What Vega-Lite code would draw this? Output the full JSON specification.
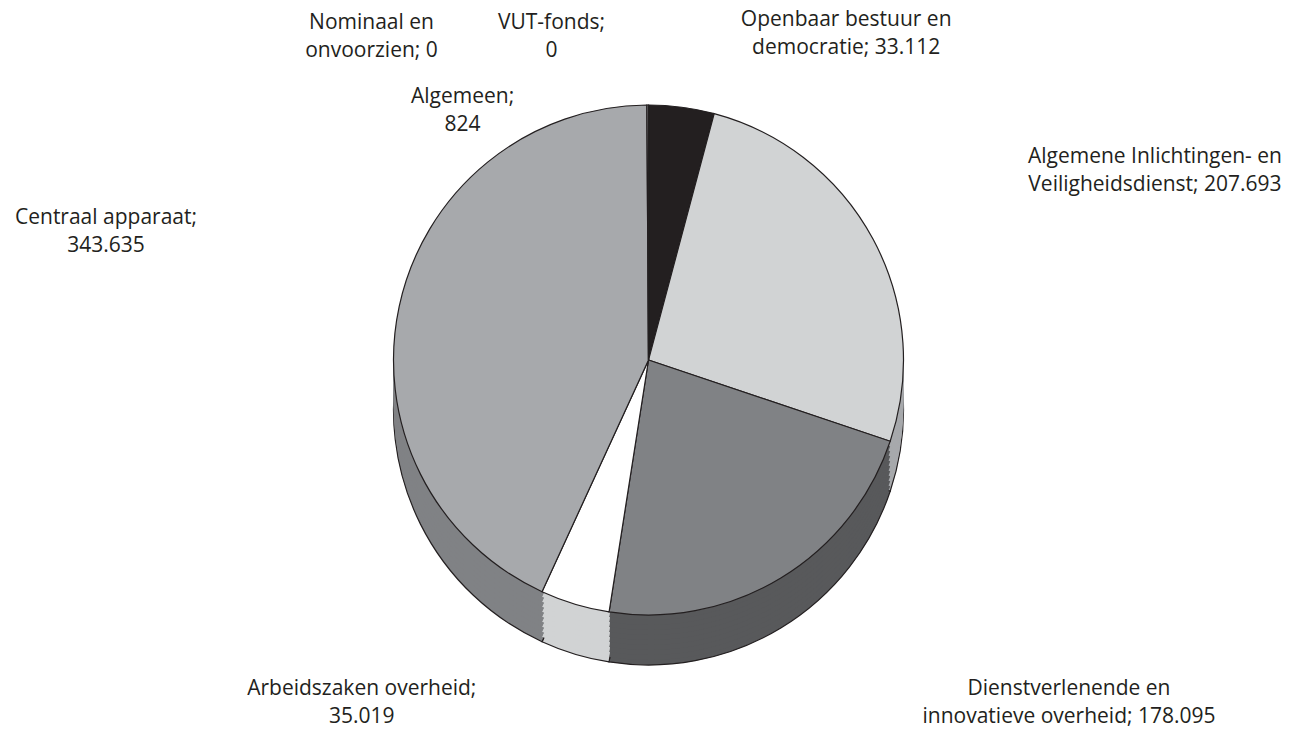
{
  "$schema": "https://vega.github.io/schema/vega-lite/v6.json",
  "width": 1297,
  "height": 740,
  "autosize": {"type": "none"},
  "padding": 0,
  "background": "white",
  "config": {"view": {"stroke": null}, "font": "Open Sans"},
  "data": {
    "values": [
      {"post": "Openbaar bestuur en democratie", "bedrag": 33112, "label": "Openbaar bestuur en\ndemocratie; 33.112", "volgorde": 1},
      {"post": "Algemene Inlichtingen- en Veiligheidsdienst", "bedrag": 207693, "label": "Algemene Inlichtingen- en\nVeiligheidsdienst; 207.693", "volgorde": 2},
      {"post": "Dienstverlenende en innovatieve overheid", "bedrag": 178095, "label": "Dienstverlenende en\ninnovatieve overheid; 178.095", "volgorde": 3},
      {"post": "Arbeidszaken overheid", "bedrag": 35019, "label": "Arbeidszaken overheid;\n35.019", "volgorde": 4},
      {"post": "Centraal apparaat", "bedrag": 343635, "label": "Centraal apparaat;\n343.635", "volgorde": 5},
      {"post": "Algemeen", "bedrag": 824, "label": "Algemeen;\n824", "volgorde": 6},
      {"post": "Nominaal en onvoorzien", "bedrag": 0, "label": "Nominaal en\nonvoorzien; 0", "volgorde": 7},
      {"post": "VUT-fonds", "bedrag": 0, "label": "VUT-fonds;\n0", "volgorde": 8}
    ]
  },
  "encoding": {
    "theta": {"field": "bedrag", "type": "quantitative", "stack": true},
    "order": {"field": "volgorde", "type": "quantitative"}
  },
  "resolve": {"scale": {"color": "independent"}},
  "layer": [
    {
      "mark": {"type": "arc", "radius": 255, "yOffset": 40, "stroke": "#231f20", "strokeWidth": 1.2},
      "encoding": {"color": {"field": "post", "type": "nominal", "legend": null,
        "scale": {"domain": ["Openbaar bestuur en democratie", "Algemene Inlichtingen- en Veiligheidsdienst", "Dienstverlenende en innovatieve overheid", "Arbeidszaken overheid", "Centraal apparaat", "Algemeen", "Nominaal en onvoorzien", "VUT-fonds"],
                  "range": ["#231f20", "#a7a9ac", "#58595b", "#d1d3d4", "#808285", "#808285", "#808285", "#808285"]}}}
    },
    {
      "mark": {"type": "arc", "radius": 255, "yOffset": 35},
      "encoding": {"color": {"field": "post", "type": "nominal", "legend": null,
        "scale": {"domain": ["Openbaar bestuur en democratie", "Algemene Inlichtingen- en Veiligheidsdienst", "Dienstverlenende en innovatieve overheid", "Arbeidszaken overheid", "Centraal apparaat", "Algemeen", "Nominaal en onvoorzien", "VUT-fonds"],
                  "range": ["#231f20", "#a7a9ac", "#58595b", "#d1d3d4", "#808285", "#808285", "#808285", "#808285"]}}}
    },
    {
      "mark": {"type": "arc", "radius": 255, "yOffset": 30},
      "encoding": {"color": {"field": "post", "type": "nominal", "legend": null,
        "scale": {"domain": ["Openbaar bestuur en democratie", "Algemene Inlichtingen- en Veiligheidsdienst", "Dienstverlenende en innovatieve overheid", "Arbeidszaken overheid", "Centraal apparaat", "Algemeen", "Nominaal en onvoorzien", "VUT-fonds"],
                  "range": ["#231f20", "#a7a9ac", "#58595b", "#d1d3d4", "#808285", "#808285", "#808285", "#808285"]}}}
    },
    {
      "mark": {"type": "arc", "radius": 255, "yOffset": 25},
      "encoding": {"color": {"field": "post", "type": "nominal", "legend": null,
        "scale": {"domain": ["Openbaar bestuur en democratie", "Algemene Inlichtingen- en Veiligheidsdienst", "Dienstverlenende en innovatieve overheid", "Arbeidszaken overheid", "Centraal apparaat", "Algemeen", "Nominaal en onvoorzien", "VUT-fonds"],
                  "range": ["#231f20", "#a7a9ac", "#58595b", "#d1d3d4", "#808285", "#808285", "#808285", "#808285"]}}}
    },
    {
      "mark": {"type": "arc", "radius": 255, "yOffset": 20},
      "encoding": {"color": {"field": "post", "type": "nominal", "legend": null,
        "scale": {"domain": ["Openbaar bestuur en democratie", "Algemene Inlichtingen- en Veiligheidsdienst", "Dienstverlenende en innovatieve overheid", "Arbeidszaken overheid", "Centraal apparaat", "Algemeen", "Nominaal en onvoorzien", "VUT-fonds"],
                  "range": ["#231f20", "#a7a9ac", "#58595b", "#d1d3d4", "#808285", "#808285", "#808285", "#808285"]}}}
    },
    {
      "mark": {"type": "arc", "radius": 255, "yOffset": 15},
      "encoding": {"color": {"field": "post", "type": "nominal", "legend": null,
        "scale": {"domain": ["Openbaar bestuur en democratie", "Algemene Inlichtingen- en Veiligheidsdienst", "Dienstverlenende en innovatieve overheid", "Arbeidszaken overheid", "Centraal apparaat", "Algemeen", "Nominaal en onvoorzien", "VUT-fonds"],
                  "range": ["#231f20", "#a7a9ac", "#58595b", "#d1d3d4", "#808285", "#808285", "#808285", "#808285"]}}}
    },
    {
      "mark": {"type": "arc", "radius": 255, "yOffset": 10},
      "encoding": {"color": {"field": "post", "type": "nominal", "legend": null,
        "scale": {"domain": ["Openbaar bestuur en democratie", "Algemene Inlichtingen- en Veiligheidsdienst", "Dienstverlenende en innovatieve overheid", "Arbeidszaken overheid", "Centraal apparaat", "Algemeen", "Nominaal en onvoorzien", "VUT-fonds"],
                  "range": ["#231f20", "#a7a9ac", "#58595b", "#d1d3d4", "#808285", "#808285", "#808285", "#808285"]}}}
    },
    {
      "mark": {"type": "arc", "radius": 255, "yOffset": 5},
      "encoding": {"color": {"field": "post", "type": "nominal", "legend": null,
        "scale": {"domain": ["Openbaar bestuur en democratie", "Algemene Inlichtingen- en Veiligheidsdienst", "Dienstverlenende en innovatieve overheid", "Arbeidszaken overheid", "Centraal apparaat", "Algemeen", "Nominaal en onvoorzien", "VUT-fonds"],
                  "range": ["#231f20", "#a7a9ac", "#58595b", "#d1d3d4", "#808285", "#808285", "#808285", "#808285"]}}}
    },
    {
      "mark": {"type": "arc", "radius": 255, "yOffset": 0},
      "encoding": {"color": {"field": "post", "type": "nominal", "legend": null,
        "scale": {"domain": ["Openbaar bestuur en democratie", "Algemene Inlichtingen- en Veiligheidsdienst", "Dienstverlenende en innovatieve overheid", "Arbeidszaken overheid", "Centraal apparaat", "Algemeen", "Nominaal en onvoorzien", "VUT-fonds"],
                  "range": ["#231f20", "#a7a9ac", "#58595b", "#d1d3d4", "#808285", "#808285", "#808285", "#808285"]}}}
    },
    {
      "mark": {"type": "arc", "radius": 255, "yOffset": -5},
      "encoding": {"color": {"field": "post", "type": "nominal", "legend": null,
        "scale": {"domain": ["Openbaar bestuur en democratie", "Algemene Inlichtingen- en Veiligheidsdienst", "Dienstverlenende en innovatieve overheid", "Arbeidszaken overheid", "Centraal apparaat", "Algemeen", "Nominaal en onvoorzien", "VUT-fonds"],
                  "range": ["#231f20", "#a7a9ac", "#58595b", "#d1d3d4", "#808285", "#808285", "#808285", "#808285"]}}}
    },
    {
      "mark": {"type": "arc", "radius": 255, "yOffset": -10, "stroke": "#231f20", "strokeWidth": 1.2},
      "encoding": {"color": {"field": "post", "type": "nominal", "legend": null,
        "scale": {"domain": ["Openbaar bestuur en democratie", "Algemene Inlichtingen- en Veiligheidsdienst", "Dienstverlenende en innovatieve overheid", "Arbeidszaken overheid", "Centraal apparaat", "Algemeen", "Nominaal en onvoorzien", "VUT-fonds"],
                  "range": ["#231f20", "#d1d3d4", "#808285", "#ffffff", "#a7a9ac", "#a7a9ac", "#a7a9ac", "#a7a9ac"]}}}
    },
    {
      "mark": {"type": "text", "radius": 290, "yOffset": -10, "dx": 160, "dy": -52, "align": "center", "baseline": "middle", "lineBreak": "\n", "lineHeight": 28, "fontSize": 21, "fill": "#231f20"},
      "encoding": {"text": {"condition": {"test": "datum.post === 'Openbaar bestuur en democratie'", "field": "label"}, "value": ""}}
    },
    {
      "mark": {"type": "text", "radius": 290, "yOffset": -10, "dx": 251, "dy": -66, "align": "center", "baseline": "middle", "lineBreak": "\n", "lineHeight": 28, "fontSize": 21, "fill": "#231f20"},
      "encoding": {"text": {"condition": {"test": "datum.post === 'Algemene Inlichtingen- en Veiligheidsdienst'", "field": "label"}, "value": ""}}
    },
    {
      "mark": {"type": "text", "radius": 290, "yOffset": -10, "dx": 270, "dy": 81, "align": "center", "baseline": "middle", "lineBreak": "\n", "lineHeight": 28, "fontSize": 21, "fill": "#231f20"},
      "encoding": {"text": {"condition": {"test": "datum.post === 'Dienstverlenende en innovatieve overheid'", "field": "label"}, "value": ""}}
    },
    {
      "mark": {"type": "text", "radius": 290, "yOffset": -10, "dx": -203, "dy": 51, "align": "center", "baseline": "middle", "lineBreak": "\n", "lineHeight": 28, "fontSize": 21, "fill": "#231f20"},
      "encoding": {"text": {"condition": {"test": "datum.post === 'Arbeidszaken overheid'", "field": "label"}, "value": ""}}
    },
    {
      "mark": {"type": "text", "radius": 290, "yOffset": -10, "dx": -259, "dy": -81, "align": "center", "baseline": "middle", "lineBreak": "\n", "lineHeight": 28, "fontSize": 21, "fill": "#231f20"},
      "encoding": {"text": {"condition": {"test": "datum.post === 'Centraal apparaat'", "field": "label"}, "value": ""}}
    },
    {
      "mark": {"type": "text", "radius": 290, "yOffset": -10, "dx": -185, "dy": 27, "align": "center", "baseline": "middle", "lineBreak": "\n", "lineHeight": 28, "fontSize": 21, "fill": "#231f20"},
      "encoding": {"text": {"condition": {"test": "datum.post === 'Algemeen'", "field": "label"}, "value": ""}}
    },
    {
      "mark": {"type": "text", "radius": 290, "yOffset": -10, "dx": -277, "dy": -47, "align": "center", "baseline": "middle", "lineBreak": "\n", "lineHeight": 28, "fontSize": 21, "fill": "#231f20"},
      "encoding": {"text": {"condition": {"test": "datum.post === 'Nominaal en onvoorzien'", "field": "label"}, "value": ""}}
    },
    {
      "mark": {"type": "text", "radius": 290, "yOffset": -10, "dx": -97, "dy": -47, "align": "center", "baseline": "middle", "lineBreak": "\n", "lineHeight": 28, "fontSize": 21, "fill": "#231f20"},
      "encoding": {"text": {"condition": {"test": "datum.post === 'VUT-fonds'", "field": "label"}, "value": ""}}
    }
  ]
}
